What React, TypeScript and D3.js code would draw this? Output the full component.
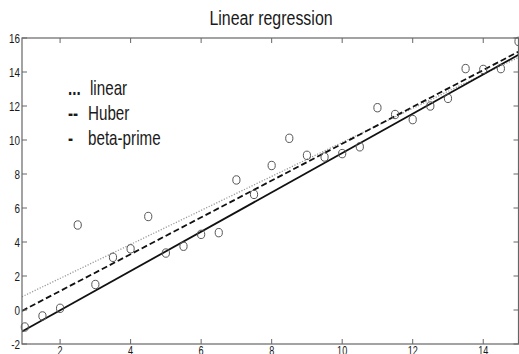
import React from 'react';
import * as d3 from 'd3';

// observed points (x, y)
const xs = [1, 1.5, 2, 2.5, 3, 3.5, 4, 4.5, 5, 5.5, 6, 6.5, 7, 7.5, 8, 8.5, 9, 9.5, 10, 10.5, 11, 11.5, 12, 12.5, 13, 13.5, 14, 14.5, 15];
const ys = [-1.0, -0.35, 0.1, 5.0, 1.5, 3.1, 3.6, 5.5, 3.35, 3.75, 4.45, 4.55, 7.65, 6.8, 8.5, 10.1, 9.1, 9.0, 9.2, 9.6, 11.9, 11.5, 11.2, 12.0, 12.45, 14.2, 14.15, 14.2, 15.8];

// fitted lines: intercept and slope
const fitNames = ['linear', 'Huber', 'beta-prime'];
const fitIntercepts = [-0.14, -1.05, -2.33];
const fitSlopes = [1.0, 1.083, 1.156];
const legendMarks = ['...', '--', '-'];

const xTicks = [2, 4, 6, 8, 10, 12, 14];
const yTicks = [-2, 0, 2, 4, 6, 8, 10, 12, 14, 16];

const W = 519;
const H = 354;
const font = '"Liberation Sans", Arial, sans-serif';
const NARROW = 0.76;

// condensed text: the original uses a narrow face, so squeeze horizontally
function NText(props: { x: number; y: number; size: number; anchor?: string; dy?: string; bold?: boolean; fill?: string; children: React.ReactNode }) {
  const { x, y, size, anchor = 'start', dy, bold, fill = '#1a1a1a', children } = props;
  return (
    <text
      transform={`translate(${x},${y}) scale(${NARROW},1)`}
      textAnchor={anchor}
      dy={dy}
      fontSize={size}
      fontWeight={bold ? 'bold' : 'normal'}
      fill={fill}
    >
      {children}
    </text>
  );
}

export default function App() {
  const left = 22, right = 518.5, top = 38, bottom = 344;
  const x = d3.scaleLinear().domain([0.92, 15]).range([left, right]);
  const y = d3.scaleLinear().domain([-2, 16]).range([bottom, top]);
  const [x0, x1] = x.domain();

  // line styles for each fit
  const styles = [
    { stroke: '#9a9a9a', width: 1.3, dash: '1.2,1.6' },
    { stroke: '#111', width: 1.8, dash: '6,3' },
    { stroke: '#111', width: 1.8, dash: undefined },
  ];

  const line = d3.line<[number, number]>().x(d => x(d[0])).y(d => y(d[1]));

  return (
    <svg width={W} height={H} style={{ position: 'fixed', left: 0, top: 0, background: '#fff' }} fontFamily={font}>
      <defs>
        <clipPath id="plot">
          <rect x={left} y={top} width={right - left} height={bottom - top} />
        </clipPath>
      </defs>
      <rect x={0} y={0} width={W} height={H} fill="#fff" />

      <NText x={271} y={25} size={21} anchor="middle">Linear regression</NText>

      {/* fitted lines */}
      <g clipPath="url(#plot)">
        {fitNames.map((n, i) => (
          <path
            key={n}
            d={line([[x0, fitIntercepts[i] + fitSlopes[i] * x0], [x1, fitIntercepts[i] + fitSlopes[i] * x1]]) || ''}
            fill="none"
            stroke={styles[i].stroke}
            strokeWidth={styles[i].width}
            strokeDasharray={styles[i].dash}
          />
        ))}
      </g>

      {/* data points */}
      {xs.map((v, i) => (
        <ellipse key={i} cx={x(v)} cy={y(ys[i])} rx={3.6} ry={4.2} fill="none" stroke="#555" strokeWidth={1} />
      ))}

      {/* frame */}
      <rect x={left} y={top} width={right - left} height={bottom - top} fill="none" stroke="#666" strokeWidth={1.2} />

      {/* x ticks (inward, top and bottom) */}
      {xTicks.map(t => (
        <g key={'x' + t}>
          <line x1={x(t)} x2={x(t)} y1={bottom} y2={bottom - 5} stroke="#666" />
          <line x1={x(t)} x2={x(t)} y1={top} y2={top + 5} stroke="#666" />
          <NText x={x(t)} y={355} size={12} anchor="middle">{t}</NText>
        </g>
      ))}

      {/* y ticks (inward, left and right) */}
      {yTicks.map(t => (
        <g key={'y' + t}>
          <line x1={left} x2={left + 5} y1={y(t)} y2={y(t)} stroke="#666" />
          <line x1={right} x2={right - 5} y1={y(t)} y2={y(t)} stroke="#666" />
          <NText x={left - 2} y={y(t)} dy="0.35em" size={13} anchor="end">{t}</NText>
        </g>
      ))}

      {/* legend */}
      {fitNames.map((n, i) => (
        <g key={'lg' + n}>
          <NText x={68} y={95 + i * 25} size={20} bold>{legendMarks[i]}</NText>
          <NText x={i === 0 ? 90 : 88} y={95 + i * 25} size={20}>{n}</NText>
        </g>
      ))}
    </svg>
  );
}
